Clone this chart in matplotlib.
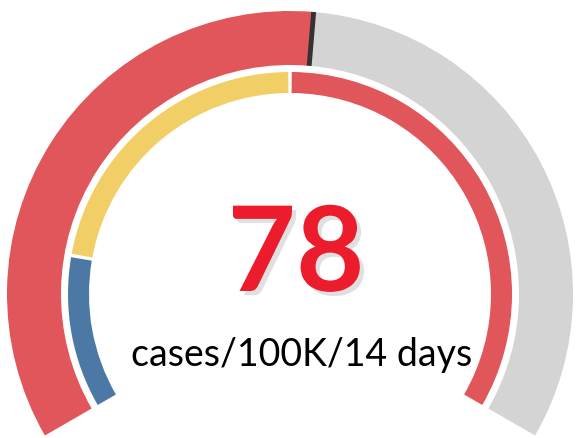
import matplotlib
matplotlib.use("Agg")
import matplotlib.pyplot as plt
from matplotlib.patches import Wedge
import matplotlib.patheffects as pe
import numpy as np

# gauge data
value = 78
scale_max = 150
band_edges = [0, 25, 75, 150]
band_colors = ["#4C78A6", "#F2CF66", "#E0565A"]
value_color = "#E0565A"
rest_color = "#D4D4D4"
label = "cases/100K/14 days"

start_deg, sweep_deg = 210, 240


def to_angle(v):
    return start_deg - sweep_deg * v / scale_max


fig = plt.figure(figsize=(5.76, 4.39), dpi=100)
ax = fig.add_axes([0, 0, 1, 1])
ax.set_xlim(-290, 286)
ax.set_ylim(-144, 295)
ax.set_aspect("equal")
ax.axis("off")

# outer ring: value vs remaining
r_out, w_out = 283, 54
a_val = to_angle(value)
ax.add_patch(Wedge((0, 0), r_out, a_val, to_angle(0), width=w_out,
                   facecolor=value_color, edgecolor="none"))
ax.add_patch(Wedge((0, 0), r_out, to_angle(scale_max), a_val, width=w_out,
                   facecolor=rest_color, edgecolor="none"))

# needle mark
t = np.deg2rad(a_val)
ax.plot([(r_out - w_out) * np.cos(t), r_out * np.cos(t)],
        [(r_out - w_out) * np.sin(t), r_out * np.sin(t)],
        color="#333333", lw=3.5, solid_capstyle="butt")

# inner ring: threshold bands
r_in, w_in = 222, 21
gap = 0.45
for lo, hi, c in zip(band_edges[:-1], band_edges[1:], band_colors):
    a1 = to_angle(hi) + (gap if hi != scale_max else 0)
    a2 = to_angle(lo) - (gap if lo != 0 else 0)
    ax.add_patch(Wedge((0, 0), r_in, a1, a2, width=w_in,
                       facecolor=c, edgecolor="none"))

# centre text
big = ax.text(6, 37, str(value), ha="center", va="center", fontsize=85,
              color="#EC1C2C", family="Lato", fontweight="bold")
big.set_path_effects([pe.SimplePatchShadow(offset=(3, -3), shadow_rgbFace="#999999", alpha=0.3),
                      pe.Normal()])
ax.text(12, -60, label, ha="center", va="center", fontsize=27,
        color="black", family="Lato")

plt.savefig("out.png", dpi=100)
